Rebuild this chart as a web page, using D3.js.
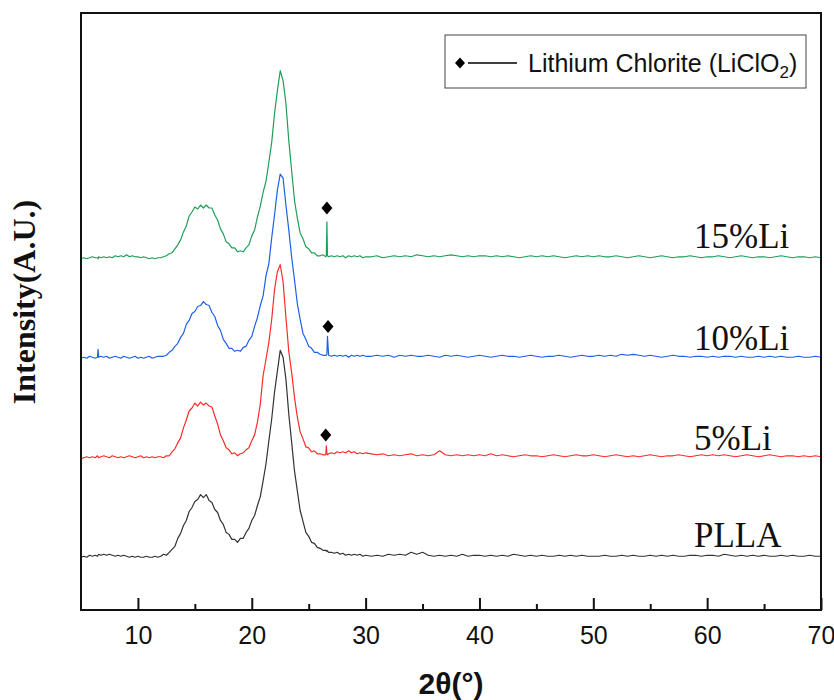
<!DOCTYPE html>
<html>
<head>
<meta charset="utf-8">
<script src="https://cdn.jsdelivr.net/npm/d3@7"></script>
<style>
  body { margin: 0; background: #fff; }
</style>
</head>
<body>
<div id="container"></div>
<script>
// 2theta grid (deg)
const twoTheta = [
  5,5.25,5.5,5.75,6,6.25,6.45,6.5,6.55,6.75,7,7.25,7.5,7.75,8,8.25,8.5,8.75,9,9.25,9.5,9.75,10,10.25,10.5,10.75,11,11.25,11.5,11.75,
  12,12.25,12.5,12.75,13,13.25,13.5,13.75,14,14.25,14.5,14.75,15,15.25,15.5,15.75,16,16.25,16.5,16.75,17,17.25,17.5,17.75,18,18.25,18.5,18.75,
  19,19.25,19.5,19.75,20,20.25,20.5,20.75,21,21.25,21.5,21.75,22,22.25,22.5,22.75,23,23.25,23.5,23.75,24,24.25,24.5,24.75,25,25.25,25.5,25.75,
  26,26.25,26.5,26.55,26.6,26.65,26.75,27,27.25,27.5,27.75,28,28.25,28.5,28.75,29,29.25,29.5,29.75,30,
  30.5,31,31.5,32,32.5,33,33.5,34,34.5,35,35.5,36,36.5,37,37.5,38,38.5,39,39.5,40,
  40.5,41,41.5,42,42.5,43,43.5,44,44.5,45,45.5,46,46.5,47,47.5,48,48.5,49,49.5,50,
  50.5,51,51.5,52,52.5,53,53.5,54,54.5,55,55.5,56,56.5,57,57.5,58,58.5,59,59.5,60,
  60.5,61,61.5,62,62.5,63,63.5,64,64.5,65,65.5,66,66.5,67,67.5,68,68.5,69,69.5,70
];

// intensities (A.U.), one value per twoTheta point
const pllaIntensity = [
  50,51,50,52,51,52,51,52,53,52,53,52,53,52,51,52,51,52,51,50,51,50,51,50,50,51,50,50,51,50,
  51,53,52,55,58,61,69,74,82,87,96,100,106,108,113,110,113,107,105,98,95,87,83,75,73,68,68,65,
  69,69,75,79,87,92,102,111,127,144,167,189,216,237,258,251,229,194,166,137,117,97,86,75,71,65,64,60,
  59,57,57,56,57,56,55,55,54,55,53,54,52,53,52,53,52,53,51,52,
  51,52,51,53,52,53,52,55,53,55,52,51,52,51,52,51,53,51,52,52,
  51,52,51,52,51,53,52,51,52,51,52,51,51,52,51,52,51,52,51,51,
  51,52,51,51,52,51,52,51,51,52,51,52,51,52,51,51,52,52,51,52,
  52,51,53,52,51,52,51,52,51,52,51,51,52,51,52,51,51,52,51,51
];
const li5Intensity = [
  49,50,51,50,51,50,52,51,50,51,52,51,50,52,51,50,51,50,51,52,51,50,51,52,50,51,50,51,50,51,
  51,50,52,52,56,59,65,70,80,88,97,100,105,102,106,103,105,102,101,92,84,73,67,60,58,54,55,52,
  54,55,58,60,67,73,86,104,133,149,166,189,219,237,244,227,191,157,136,111,91,76,69,61,60,56,57,54,
  54,53,53,62,54,53,54,55,54,56,55,56,55,57,55,56,54,55,54,55,
  54,53,54,52,53,52,53,54,52,53,52,53,57,53,52,53,52,53,52,53,
  52,54,52,53,52,51,52,53,52,52,51,52,53,52,51,52,53,52,52,53,
  52,51,52,53,52,51,52,51,52,53,52,51,52,52,53,52,51,52,53,52,
  53,52,53,52,51,52,53,52,51,52,53,52,51,52,52,51,52,51,52,51
];
const li10Intensity = [
  50,51,50,52,51,50,51,59,51,52,51,52,50,51,52,51,50,52,51,50,51,52,50,51,50,51,52,50,51,52,
  52,52,53,56,58,62,65,71,75,84,88,95,97,102,103,107,104,103,96,92,83,78,69,65,60,60,57,58,
  57,61,62,68,72,82,91,103,113,133,145,171,194,219,235,231,204,179,152,129,105,89,75,69,62,60,56,56,
  54,53,53,53,54,72,53,52,53,52,53,52,53,51,53,52,53,52,53,52,
  52,53,52,53,51,53,52,53,52,52,53,52,51,53,52,53,52,51,52,53,
  52,51,52,53,52,52,51,52,53,52,51,52,52,53,52,51,52,53,52,52,
  53,52,53,52,54,53,54,53,52,53,52,51,52,53,52,52,51,52,52,51,
  52,51,52,52,51,52,51,51,52,51,52,51,52,51,51,52,51,51,52,51
];
const li15Intensity = [
  50,51,50,51,52,51,51,50,52,51,52,51,52,51,53,52,53,52,54,52,53,52,52,51,52,51,50,51,50,51,
  51,52,53,55,56,60,64,69,77,83,93,97,102,100,104,101,104,101,101,94,89,80,75,67,65,61,61,57,
  58,57,61,64,73,79,92,103,117,128,147,167,196,219,239,229,206,169,139,109,91,76,70,62,60,56,56,53,
  53,54,52,53,87,53,52,53,52,53,52,53,51,53,52,53,52,53,51,52,
  52,53,51,52,53,52,53,52,54,53,52,53,52,53,54,53,52,53,52,53,
  53,52,53,52,53,52,51,52,53,52,53,52,53,52,51,52,53,52,53,52,
  53,52,52,53,52,51,52,53,52,51,52,53,52,51,52,52,53,52,51,52,
  52,53,52,51,52,53,52,51,52,52,51,52,53,52,51,52,52,51,52,51
];

const seriesNames = ["PLLA", "5%Li", "10%Li", "15%Li"];
const seriesData = [pllaIntensity, li5Intensity, li10Intensity, li15Intensity];
const seriesColors = ["#333333", "#ff2b2b", "#1f5fe6", "#1f9e57"];
const seriesOffsets = [0, 100, 200, 300];

// LiClO2 reflection markers (5%, 10%, 15%)
const markerSeries = [1, 2, 3];
const markerTheta = [26.5, 26.7, 26.6];
const markerIntensity = [73, 82, 101];

const majorTicks = [10, 20, 30, 40, 50, 60, 70];
const minorTicks = [15, 25, 35, 45, 55, 65];

const w = 834, h = 700;
const plotLeft = 81, plotRight = 821, plotTop = 13, plotBottom = 610;

const xScale = d3.scaleLinear().domain([5, 70]).range([plotLeft, plotRight]);
const yScale = d3.scaleLinear().domain([-3, 597]).range([plotBottom, plotTop]);

const svg = d3.select("#container")
  .append("svg")
  .attr("width", w)
  .attr("height", h)
  .style("display", "block");

svg.append("defs").append("clipPath").attr("id", "plot")
  .append("rect")
  .attr("x", plotLeft).attr("y", plotTop)
  .attr("width", plotRight - plotLeft).attr("height", plotBottom - plotTop);

// patterns
const line = d3.line()
  .x(d => xScale(d[0]))
  .y(d => yScale(d[1]));

seriesData.forEach(function(vals, i) {
  const pts = twoTheta.map((t, k) => [t, vals[k] + seriesOffsets[i]]);
  svg.append("path")
    .datum(pts)
    .attr("clip-path", "url(#plot)")
    .attr("fill", "none")
    .attr("stroke", seriesColors[i])
    .attr("stroke-width", 1.2)
    .attr("stroke-linejoin", "round")
    .attr("d", line);
});

// diamonds
const diamond = (rx, ry) => `M0,${-ry}L${rx},0L0,${ry}L${-rx},0Z`;
markerTheta.forEach(function(t, i) {
  const v = markerIntensity[i] + seriesOffsets[markerSeries[i]];
  svg.append("path")
    .attr("d", diamond(5.5, 6.5))
    .attr("transform", "translate(" + xScale(t) + "," + yScale(v) + ")")
    .attr("fill", "#000");
});

// series labels
const labelY = [547, 450, 350, 248];
seriesNames.forEach(function(name, i) {
  svg.append("text")
    .attr("x", 694)
    .attr("y", labelY[i])
    .style("font-family", "'Liberation Serif', 'Times New Roman', serif")
    .style("font-size", "35px")
    .attr("fill", "#111")
    .text(name);
});

// axes
const xAxis = d3.axisBottom(xScale).tickValues(majorTicks).tickSize(-12).tickPadding(16).tickFormat(d3.format("d"));
const gx = svg.append("g")
  .attr("transform", "translate(0," + plotBottom + ")")
  .call(xAxis);
gx.select(".domain").remove();
gx.selectAll(".tick line").attr("stroke", "#111").attr("stroke-width", 2);
gx.selectAll(".tick text")
  .attr("fill", "#111")
  .style("font-family", "'Liberation Sans', Arial, sans-serif")
  .style("font-size", "25px");

const gm = svg.append("g")
  .attr("transform", "translate(0," + plotBottom + ")")
  .call(d3.axisBottom(xScale).tickValues(minorTicks).tickSize(-6).tickFormat(""));
gm.select(".domain").remove();
gm.selectAll(".tick line").attr("stroke", "#111").attr("stroke-width", 2);

// frame
svg.append("rect")
  .attr("x", plotLeft).attr("y", plotTop)
  .attr("width", plotRight - plotLeft).attr("height", plotBottom - plotTop)
  .attr("fill", "none")
  .attr("stroke", "#111")
  .attr("stroke-width", 2);

// axis titles
svg.append("text")
  .attr("x", (plotLeft + plotRight) / 2)
  .attr("y", 694)
  .attr("text-anchor", "middle")
  .style("font-family", "'Liberation Sans', Arial, sans-serif")
  .style("font-weight", "bold")
  .style("font-size", "30px")
  .attr("fill", "#111")
  .text("2θ(°)");

svg.append("text")
  .attr("transform", "translate(35," + 302 + ")rotate(-90)")
  .attr("text-anchor", "middle")
  .style("font-family", "'Liberation Serif', 'Times New Roman', serif")
  .style("font-weight", "bold")
  .style("font-size", "32px")
  .attr("fill", "#111")
  .text("Intensity(A.U.)");

// legend
const lg = svg.append("g");
lg.append("rect")
  .attr("x", 445).attr("y", 35)
  .attr("width", 361).attr("height", 53)
  .attr("fill", "#fff")
  .attr("stroke", "#444")
  .attr("stroke-width", 1);
lg.append("path")
  .attr("d", diamond(5, 5.5))
  .attr("transform", "translate(460,63)")
  .attr("fill", "#000");
lg.append("line")
  .attr("x1", 468).attr("x2", 517)
  .attr("y1", 63).attr("y2", 63)
  .attr("stroke", "#000")
  .attr("stroke-width", 1.3);
const lt = lg.append("text")
  .attr("x", 528).attr("y", 72)
  .style("font-family", "'Liberation Sans', Arial, sans-serif")
  .style("font-size", "25px")
  .attr("fill", "#111");
lt.append("tspan").text("Lithium Chlorite (LiClO");
lt.append("tspan").attr("dy", 6).style("font-size", "17px").text("2");
lt.append("tspan").attr("dy", -6).text(")");
</script>
</body>
</html>
